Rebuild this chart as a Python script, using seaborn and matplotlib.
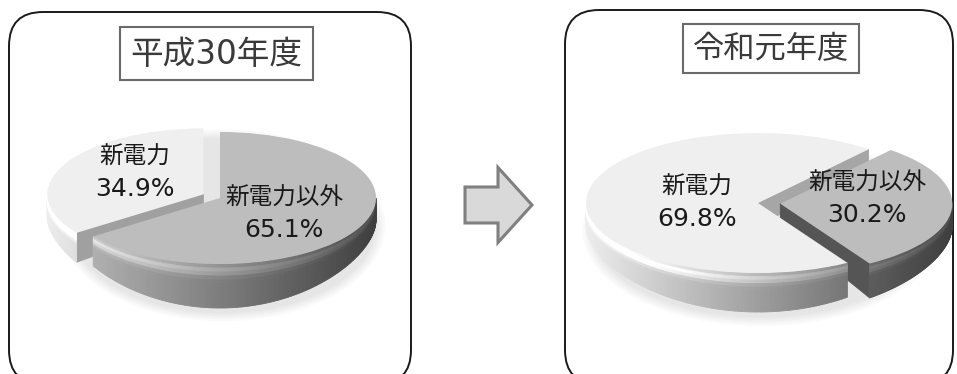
import numpy as np
import matplotlib.pyplot as plt
import matplotlib.colors as mcolors
import seaborn as sns
from matplotlib.patches import FancyBboxPatch, Rectangle, FancyArrow, Ellipse, Polygon
from matplotlib.collections import PolyCollection

# data
years = ["平成30年度", "令和元年度"]
slice_names = [["新電力以外", "新電力"], ["新電力", "新電力以外"]]
shares = [[65.1, 34.9], [69.8, 30.2]]
exploded = ["新電力", "新電力以外"]  # slice pulled out of each pie

sns.set_theme(style="white")
plt.rcParams['font.family'] = ['DejaVu Sans', 'Noto Sans CJK JP']

palette = {"新電力": "#efefef", "新電力以外": "#bdbdbd"}

W, H = 957, 374
# layout of each panel in pixels (y from top); d0/d1 = side thickness at the
# sides / extra thickness at the front (bevel seen face on)
layouts = [
    dict(box=(9, 12, 402, 372), title=(120, 27, 193, 53), title_size=23.5,
         cx=220, cy=198, rx=156, ry=66, d0=22, d1=22, start=90, explode=0.12,
         text={"新電力": (135, 157), "新電力以外": (284, 198)}),
    dict(box=(565, 10, 388, 374), title=(683, 24, 176, 49), title_size=22.5,
         cx=758, cy=203, rx=172, ry=70, d0=22, d1=17, start=301.3, explode=0.13,
         text={"新電力": (697, 187), "新電力以外": (867, 183)}),
]


def shade(color, f):
    rgb = np.array(mcolors.to_rgb(color))
    return tuple(np.clip(rgb * f, 0, 1))


def thickness(t, d0, d1):
    return d0 + d1 * np.clip(-np.sin(t), 0, None) ** 2


def draw_side(ax, ox, oy, t1, t2, color, d0, d1):
    th = np.radians(np.linspace(t1, t2, 240))
    bands = np.linspace(0, 1, 12)
    polys, cols = [], []
    for a, b in zip(th[:-1], th[1:]):
        m = (a + b) / 2
        if np.sin(m) > 0.0:
            continue
        da, db = thickness(a, d0, d1), thickness(b, d0, d1)
        base_f = 0.72 - 0.36 * np.cos(m)
        for s0, s1 in zip(bands[:-1], bands[1:]):
            sm = (s0 + s1) / 2
            f = base_f * (0.92 + 0.3 * np.exp(-((sm - 0.15) / 0.13) ** 2))
            polys.append([(ox + np.cos(a), oy + np.sin(a) - s0 * da),
                          (ox + np.cos(b), oy + np.sin(b) - s0 * db),
                          (ox + np.cos(b), oy + np.sin(b) - s1 * db),
                          (ox + np.cos(a), oy + np.sin(a) - s1 * da)])
            cols.append(shade(color, f))
    ax.add_collection(PolyCollection(polys, facecolors=cols, edgecolors=cols,
                                     linewidths=0.6, zorder=2))


def draw_wall(ax, ox, oy, t, normal, color, d0, d1):
    f = 0.58 + 0.15 * np.cos(np.radians(normal))
    tr = np.radians(t)
    x, y = ox + np.cos(tr), oy + np.sin(tr)
    d = thickness(tr, d0, d1)
    ax.add_patch(Polygon([(ox, oy), (x, y), (x, y - d), (ox, oy - d0)],
                         closed=True, facecolor=shade(color, f),
                         edgecolor=shade(color, f), lw=0.6, zorder=1))


fig = plt.figure(figsize=(W / 100, H / 100), dpi=100)
bg = fig.add_axes([0, 0, 1, 1])
bg.set_xlim(0, W)
bg.set_ylim(H, 0)
bg.axis('off')

# arrow between the panels
bg.add_patch(FancyArrow(465, 205, 67, 0, width=36, head_width=75, head_length=34,
                        length_includes_head=True, facecolor="#d9d9d9",
                        edgecolor="#808080", lw=2.2))

for i, year in enumerate(years):
    L = layouts[i]
    bx, by, bw, bh = L['box']
    bg.add_patch(FancyBboxPatch((bx, by), bw, bh,
                                boxstyle="round,pad=0,rounding_size=34",
                                facecolor="white", edgecolor="#1a1a1a", lw=1.4))
    tx, ty, tw, th = L['title']
    bg.add_patch(Rectangle((tx, ty), tw, th, facecolor="white",
                           edgecolor="#6a6a6a", lw=1.5))
    bg.text(tx + tw / 2, ty + th / 2 + 1, year, ha="center", va="center",
            fontsize=L['title_size'], color="#3a3a3a")

    ax = fig.add_axes([0, 0, 1, 1])
    ax.patch.set_alpha(0)
    names = slice_names[i]
    colors = [palette[n] for n in names]
    explode = [L['explode'] if n == exploded[i] else 0 for n in names]
    wedges, _ = ax.pie(shares[i], colors=colors, explode=explode,
                       startangle=L['start'], counterclock=False,
                       wedgeprops=dict(linewidth=0, zorder=3))
    ax.set_aspect('auto')
    d0, d1 = L['d0'] / L['ry'], L['d1'] / L['ry']

    # soft shadow under the pie
    for k in range(5):
        ax.add_patch(Ellipse((0.02, -d0 - 0.08), 1.96 + 0.03 * k,
                             2 * (1 + d1) + 0.06 * k,
                             facecolor="#000000", alpha=0.02, lw=0, zorder=0))

    for w, col in zip(wedges, colors):
        ox, oy = w.center
        t1, t2 = w.theta1, w.theta2
        draw_side(ax, ox, oy, t1, t2, col, d0, d1)
        for t, normal in ((t1, t1 - 90), (t2, t2 + 90)):
            if np.sin(np.radians(normal)) < -0.05:
                draw_wall(ax, ox, oy, t, normal, col, d0, d1)

    ax.set_xlim(-L['cx'] / L['rx'], (W - L['cx']) / L['rx'])
    ax.set_ylim(-(H - L['cy']) / L['ry'], L['cy'] / L['ry'])
    ax.axis('off')

    for name, share in zip(names, shares[i]):
        lx, ly = L['text'][name]
        ax.text(lx, ly, name, transform=bg.transData, ha="center", va="center",
                fontsize=17, color="#1a1a1a", zorder=5)
        ax.text(lx, ly + 32, f"{share:.1f}%", transform=bg.transData,
                ha="center", va="center", fontsize=18, color="#1a1a1a", zorder=5)

fig.savefig("out.png", dpi=100)
